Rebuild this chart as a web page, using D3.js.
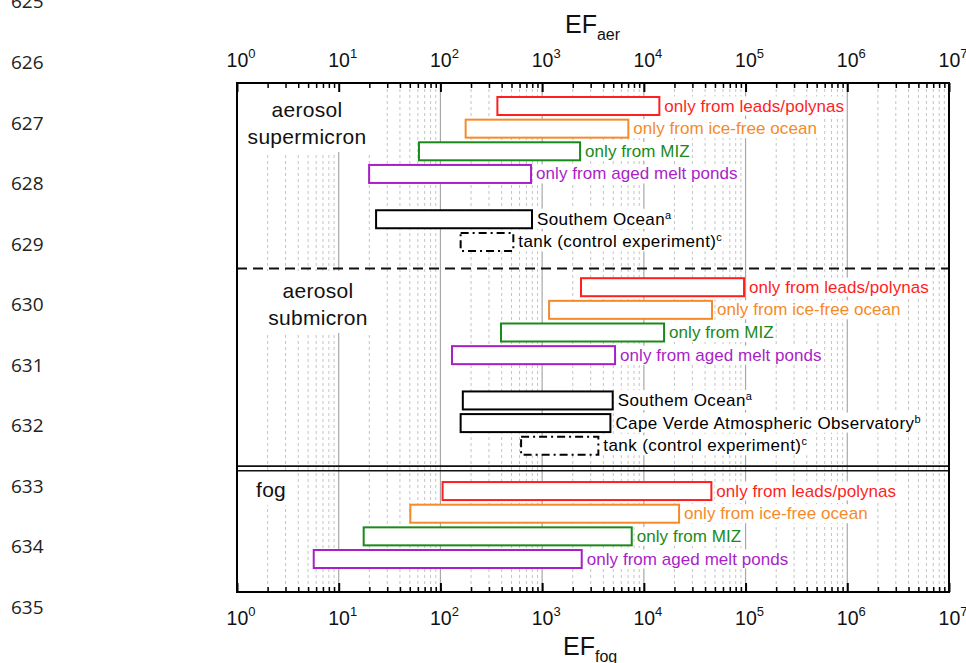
<!DOCTYPE html>
<html>
<head>
<meta charset="utf-8">
<script src="https://cdn.jsdelivr.net/npm/d3@7"></script>
<style>
  body { margin: 0; background: #fff; }
  svg { display: block; font-family: "Liberation Sans", Arial, sans-serif; }
</style>
</head>
<body>
<svg id="svg" width="966" height="663"></svg>
<script>
// manuscript line numbers down the left margin
const lineNumbers = [625, 626, 627, 628, 629, 630, 631, 632, 633, 634, 635];

// decade tick exponents
const decades = [0, 1, 2, 3, 4, 5, 6, 7];

// source categories (same four in every panel)
const sources = ['only from leads/polynas', 'only from ice-free ocean', 'only from MIZ', 'only from aged melt ponds'];
const sourceColors = ['#ff1f1f', '#f58a2a', '#1a8a1a', '#a81fc8'];

// EF ranges, aerosol supermicron
const superLow = [363, 177, 61.5, 19.9];
const superHigh = [14200, 7040, 2360, 778];

// EF ranges, aerosol submicron
const subLow = [2410, 1170, 394, 130];
const subHigh = [96600, 46800, 15800, 5210];

// EF ranges, fog
const fogLow = [105, 50.6, 17.6, 5.68];
const fogHigh = [46100, 22200, 7600, 2450];

// reference observations
const superRefNames = ['Southem Ocean', 'tank (control experiment)'];
const superRefSup = ['a', 'c'];
const superRefLow = [23.3, 158];
const superRefHigh = [795, 521];
const superRefDash = [false, true];

const subRefNames = ['Southem Ocean', 'Cape Verde Atmospheric Observatory', 'tank (control experiment)'];
const subRefSup = ['a', 'b', 'c'];
const subRefLow = [166, 158, 621];
const subRefHigh = [4940, 4690, 3570];
const subRefDash = [false, false, true];

const svg = d3.select('#svg');
const plotLeft = 237, plotRight = 949, plotTop = 83, plotBottom = 592;
const barHeight = 18;

const x = d3.scaleLog().domain([1, 1e7]).range([plotLeft, plotRight]);
// y in row units: rows 0..20 from supermicron top to fog bottom
const y = d3.scaleLinear().domain([0, 20]).range([106, 559]);
const yLine = d3.scaleLinear().domain([626, 635]).range([69, 614]);

// build row list
const rows = [];
sources.forEach((s, i) => rows.push({row: i, lo: superLow[i], hi: superHigh[i], label: s, color: sourceColors[i]}));
superRefNames.forEach((s, i) => rows.push({row: 5 + i, lo: superRefLow[i], hi: superRefHigh[i], label: s, sup: superRefSup[i], color: '#000', dash: superRefDash[i]}));
sources.forEach((s, i) => rows.push({row: 8 + i, lo: subLow[i], hi: subHigh[i], label: s, color: sourceColors[i]}));
subRefNames.forEach((s, i) => rows.push({row: 13 + i, lo: subRefLow[i], hi: subRefHigh[i], label: s, sup: subRefSup[i], color: '#000', dash: subRefDash[i]}));
sources.forEach((s, i) => rows.push({row: 17 + i, lo: fogLow[i], hi: fogHigh[i], label: s, color: sourceColors[i]}));

// line numbers
svg.append('g').selectAll('text')
  .data(lineNumbers)
  .enter().append('text')
    .attr('x', 11)
    .attr('y', d => yLine(d))
    .style('font-family', '"Open Sans", "Noto Sans", sans-serif')
    .style('font-size', '19px')
    .attr('fill', '#222')
    .text(d => d);

// grid lines
const minors = [];
for (let e = 0; e < 7; e++) for (let m = 2; m <= 9; m++) minors.push(m * Math.pow(10, e));
const majors = decades.map(e => Math.pow(10, e));

svg.append('g').selectAll('line')
  .data(minors)
  .enter().append('line')
    .attr('x1', d => x(d)).attr('x2', d => x(d))
    .attr('y1', plotTop).attr('y2', plotBottom)
    .attr('stroke', '#c4c4c4')
    .attr('stroke-width', 1)
    .attr('stroke-dasharray', '3,3');

svg.append('g').selectAll('line')
  .data(majors.slice(1, -1))
  .enter().append('line')
    .attr('x1', d => x(d)).attr('x2', d => x(d))
    .attr('y1', plotTop).attr('y2', plotBottom)
    .attr('stroke', '#a8a8a8')
    .attr('stroke-width', 1.2);

// panel labels with white backing (box runs from the panel's top edge)
function panelLabel(lines, tx, y0, boxTop, anchor) {
  const g = svg.append('g');
  const bg = g.append('rect').attr('fill', '#fff');
  const t = g.append('text')
    .attr('text-anchor', anchor)
    .style('font-size', '21px')
    .style('letter-spacing', '0.3px')
    .attr('fill', '#111');
  lines.forEach((l, i) => t.append('tspan').attr('x', tx).attr('y', y0 + i * 27).text(l));
  const b = t.node().getBBox();
  bg.attr('x', plotLeft + 1).attr('y', boxTop)
    .attr('width', b.x + b.width + 3 - plotLeft)
    .attr('height', b.y + b.height + 4 - boxTop);
}
panelLabel(['aerosol', 'supermicron'], 307, 117, plotTop + 1, 'middle');
panelLabel(['aerosol', 'submicron'], 318, 298, 271, 'middle');
panelLabel(['fog'], 256, 497, 473, 'start');

// bars
const rowG = svg.append('g').selectAll('g.row')
  .data(rows)
  .enter().append('g')
    .attr('class', 'row');

rowG.append('rect')
  .attr('x', d => x(d.lo))
  .attr('y', d => y(d.row) - barHeight / 2)
  .attr('width', d => x(d.hi) - x(d.lo))
  .attr('height', barHeight)
  .attr('fill', '#fff')
  .attr('stroke', d => d.color)
  .attr('stroke-width', 2)
  .attr('stroke-dasharray', d => d.dash ? '8,4,2,4' : null);

// row labels with white backing
rowG.each(function(d) {
  const g = d3.select(this);
  const bg = g.append('rect').attr('fill', '#fff');
  const t = g.append('text')
    .attr('x', x(d.hi) + 5)
    .attr('y', y(d.row) + 5.5)
    .style('font-size', '17px')
    .style('letter-spacing', d.sup ? '0.4px' : '0.05px')
    .attr('fill', d.color)
    .text(d.label);
  if (d.sup) {
    t.append('tspan')
      .attr('dy', -6)
      .style('font-size', '11px')
      .text(d.sup);
  }
  const b = t.node().getBBox();
  bg.attr('x', b.x - 1).attr('y', b.y)
    .attr('width', b.width + 2).attr('height', b.height);
});

// section separators
svg.append('line')
  .attr('x1', plotLeft).attr('x2', plotRight)
  .attr('y1', y(7.17)).attr('y2', y(7.17))
  .attr('stroke', '#111')
  .attr('stroke-width', 2)
  .attr('stroke-dasharray', '10,6');

[-2.3, 2.3].forEach(off => {
  svg.append('line')
    .attr('x1', plotLeft).attr('x2', plotRight)
    .attr('y1', y(16) + off).attr('y2', y(16) + off)
    .attr('stroke', '#111')
    .attr('stroke-width', 1.6);
});

// frame
svg.append('rect')
  .attr('x', plotLeft).attr('y', plotTop)
  .attr('width', plotRight - plotLeft).attr('height', plotBottom - plotTop)
  .attr('fill', 'none')
  .attr('stroke', '#000')
  .attr('stroke-width', 2);

// axes: ticks point into the plot
function axisTicks(axisFn, ypos) {
  const major = svg.append('g')
    .attr('transform', `translate(0,${ypos})`)
    .call(axisFn(x).tickValues(majors).tickSizeInner(-9).tickSizeOuter(0).tickFormat(''));
  major.select('.domain').remove();
  major.selectAll('line').attr('stroke', '#000').attr('stroke-width', 2);

  const minor = svg.append('g')
    .attr('transform', `translate(0,${ypos})`)
    .call(axisFn(x).tickValues(minors).tickSizeInner(-5).tickSizeOuter(0).tickFormat(''));
  minor.select('.domain').remove();
  minor.selectAll('line').attr('stroke', '#000').attr('stroke-width', 1.5);
}
axisTicks(d3.axisTop, plotTop);
axisTicks(d3.axisBottom, plotBottom);

// decade labels 10^n
function decadeLabels(ybase) {
  const t = svg.append('g').selectAll('text')
    .data(decades)
    .enter().append('text')
      .attr('x', d => x(Math.pow(10, d)) + 4)
      .attr('y', ybase)
      .attr('text-anchor', 'middle')
      .style('font-size', '19.5px')
      .attr('fill', '#111');
  t.append('tspan').text('10');
  t.append('tspan').attr('dy', -9).style('font-size', '13px').text(d => d);
}
decadeLabels(67);
decadeLabels(625);

// axis titles
function axisTitle(xpos, ybase, sub) {
  const t = svg.append('text')
    .attr('x', xpos)
    .attr('y', ybase)
    .style('font-size', '25px')
    .attr('fill', '#111');
  t.append('tspan').text('EF');
  t.append('tspan').attr('dy', 7).style('font-size', '16px').text(sub);
}
axisTitle(565, 33, 'aer');
axisTitle(563, 655, 'fog');
</script>
</body>
</html>
